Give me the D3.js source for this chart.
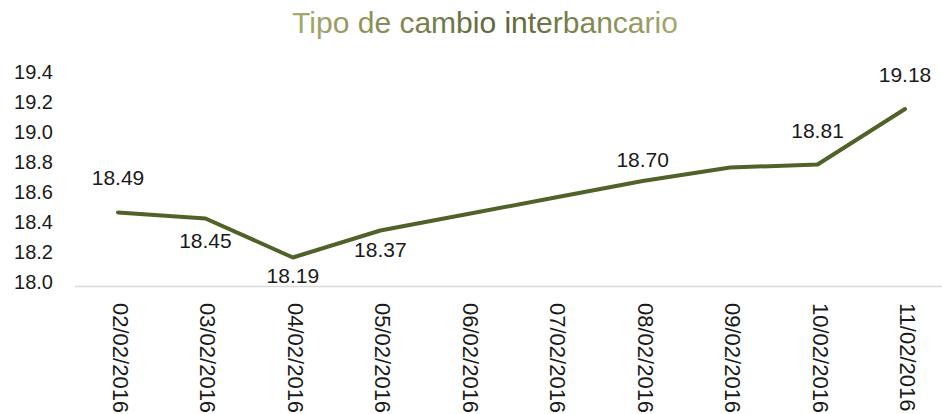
<!DOCTYPE html>
<html>
<head>
<meta charset="utf-8">
<script src="https://cdn.jsdelivr.net/npm/d3@7"></script>
<style>
  html, body { margin: 0; padding: 0; background: #fff; }
  svg { display: block; font-family: "Liberation Sans", Arial, sans-serif; }
</style>
</head>
<body>
<svg width="942" height="414"></svg>
<script>
// Tipo de cambio interbancario, 02/02/2016 - 11/02/2016
const dates = ['02/02/2016', '03/02/2016', '04/02/2016', '05/02/2016', '06/02/2016',
               '07/02/2016', '08/02/2016', '09/02/2016', '10/02/2016', '11/02/2016'];
const rates = [18.49, 18.45, 18.19, 18.37, 18.48, 18.59, 18.70, 18.79, 18.81, 19.18];
// which points carry a data label, and where it sits (px relative to the point)
const labelShown = [true, true, true, true, false, false, true, false, true, true];
const labelDy = [-35, 22, 18, 19, 0, 0, -22, 0, -34, -35];
const yTicks = [18.0, 18.2, 18.4, 18.6, 18.8, 19.0, 19.2, 19.4];

const svg = d3.select('svg');
const x = d3.scalePoint().domain(dates).range([118, 905]);
const y = d3.scaleLinear().domain([18, 19.4]).range([286, 76]);

// title with the soft olive gradient
const grad = svg.append('defs').append('linearGradient')
  .attr('id', 'tg').attr('gradientUnits', 'userSpaceOnUse')
  .attr('x1', 291).attr('x2', 680).attr('y1', 0).attr('y2', 0);
grad.append('stop').attr('offset', 0).attr('stop-color', '#a7ac6c');
grad.append('stop').attr('offset', 0.55).attr('stop-color', '#5d6436');
grad.append('stop').attr('offset', 1).attr('stop-color', '#a7ac6c');
svg.append('text').attr('x', 485).attr('y', 33).attr('text-anchor', 'middle')
  .attr('font-size', 30).attr('fill', 'url(#tg)').text('Tipo de cambio interbancario');

// y axis (labels only)
const yAxis = svg.append('g').attr('transform', 'translate(53,-4)')
  .call(d3.axisLeft(y).tickValues(yTicks).tickFormat(d3.format('.1f')).tickSize(0).tickPadding(0));
yAxis.select('.domain').remove();
yAxis.selectAll('text').attr('font-size', 20).attr('fill', '#1a1a1a')
  .attr('font-family', '"Liberation Sans", Arial, sans-serif');

// x axis: baseline + rotated date labels
const xAxis = svg.append('g').attr('transform', `translate(0,${y(18)})`)
  .call(d3.axisBottom(x).tickSize(0).tickPadding(0));
xAxis.select('.domain').attr('d', 'M75,0.5H942').attr('stroke', '#d9d9d9').attr('stroke-width', 1.5);
xAxis.selectAll('.tick text')
  .attr('font-size', 22).attr('fill', '#1a1a1a')
  .attr('font-family', '"Liberation Sans", Arial, sans-serif')
  .attr('text-anchor', 'start').attr('dominant-baseline', 'central')
  .attr('dy', null).attr('y', 0)
  .attr('transform', 'translate(2,17) rotate(90)');

// line
const line = d3.line().x((d, i) => x(dates[i])).y(d => y(d));
svg.append('path').datum(rates).attr('d', line)
  .attr('fill', 'none').attr('stroke', '#4f6228').attr('stroke-width', 4)
  .attr('stroke-linejoin', 'round').attr('stroke-linecap', 'round');

// data labels
svg.append('g').selectAll('text')
  .data(rates.map((v, i) => ({ v, i })).filter(d => labelShown[d.i]))
  .join('text')
  .attr('x', d => x(dates[d.i]))
  .attr('y', d => y(d.v) + labelDy[d.i])
  .attr('text-anchor', 'middle').attr('dominant-baseline', 'central')
  .attr('font-size', 21).attr('fill', '#1a1a1a')
  .text(d => d.v.toFixed(2));
</script>
</body>
</html>
